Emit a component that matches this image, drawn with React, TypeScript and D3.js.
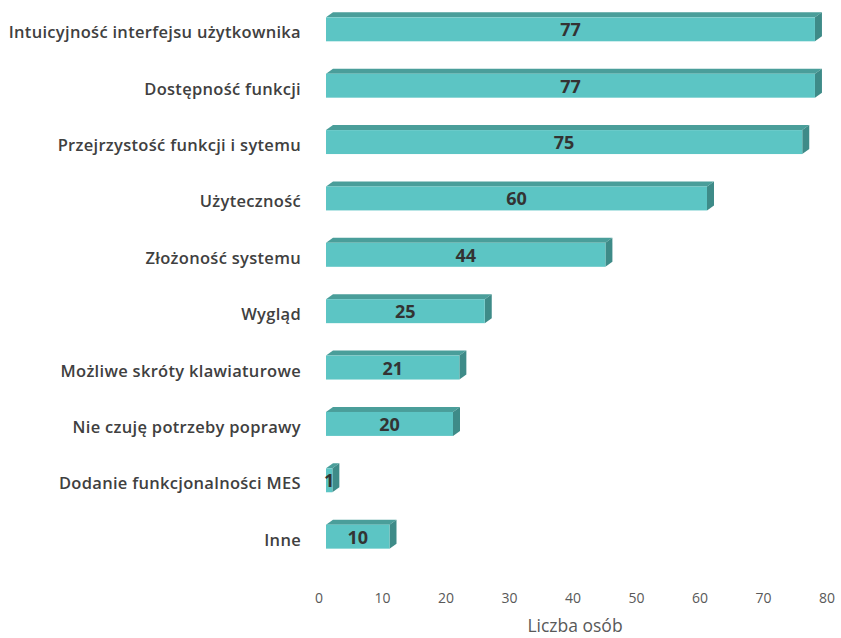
import React from "react";
import * as d3 from "d3";

const categories = [
  "Intuicyjność interfejsu użytkownika",
  "Dostępność funkcji",
  "Przejrzystość funkcji i sytemu",
  "Użyteczność",
  "Złożoność systemu",
  "Wygląd",
  "Możliwe skróty klawiaturowe",
  "Nie czuję potrzeby poprawy",
  "Dodanie funkcjonalności MES",
  "Inne",
];
const values = [77, 77, 75, 60, 44, 25, 21, 20, 1, 10];
const ticks = [0, 10, 20, 30, 40, 50, 60, 70, 80];
const axisTitle = "Liczba osób";

export default function App() {
  const W = 841, H = 638;
  const x = d3.scaleLinear().domain([0, 80]).range([326, 834]);
  const y = d3.scaleBand<string>().domain(categories).range([1, 565]).paddingInner(0.575).paddingOuter(0.29);
  const dx = 7, dy = 5;
  const front = "#5cc5c4", top = "#4a9e9a", side = "#3e8b88";
  const font = "'Open Sans', sans-serif";
  return (
    <svg width={W} height={H} style={{ position: "absolute", left: 0, top: 0, background: "#fff" }}>
      {categories.map((c, i) => {
        const y0 = y(c)!;
        const h = y.bandwidth();
        const x0 = x(0), x1 = x(values[i]);
        return (
          <g key={c}>
            <path d={`M${x0},${y0} L${x0 + dx},${y0 - dy} L${x1 + dx},${y0 - dy} L${x1},${y0} Z`} fill={top} />
            <path d={`M${x1},${y0} L${x1 + dx},${y0 - dy} L${x1 + dx},${y0 + h - dy} L${x1},${y0 + h} Z`} fill={side} />
            <rect x={x0} y={y0} width={x1 - x0} height={h} fill={front} />
            <text x={(x0 + x1) / 2} y={y0 + h / 2 + 7} textAnchor="middle" fontFamily={font} fontWeight={700} fontSize={18} fill="#333">{values[i]}</text>
            <text x={301} y={y0 + h / 2 + 9} textAnchor="end" fontFamily={font} fontWeight={600} fontSize={16.5} letterSpacing={0.3} fill="#404040">{c}</text>
          </g>
        );
      })}
      {ticks.map((t) => (
        <text key={t} x={x(t) - 7} y={603} textAnchor="middle" fontFamily={font} fontSize={14} fill="#595959">{t}</text>
      ))}
      <text x={575} y={632} textAnchor="middle" fontFamily={font} fontSize={17.5} fill="#595959">{axisTitle}</text>
    </svg>
  );
}
